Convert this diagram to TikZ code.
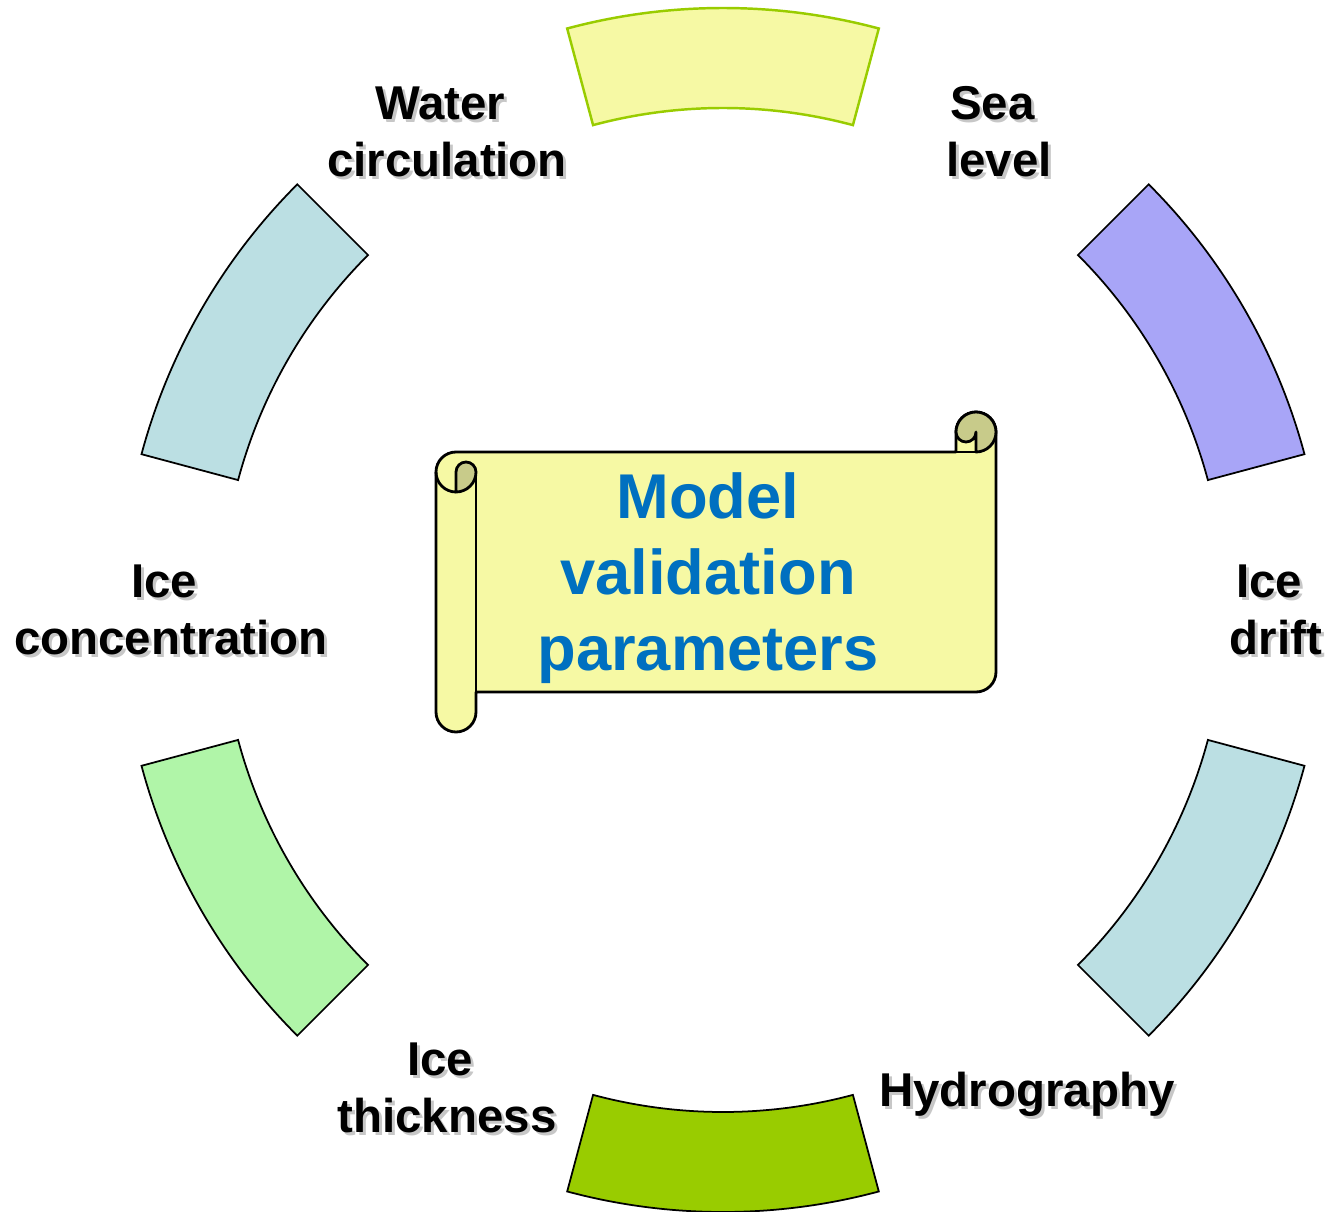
\documentclass[tikz,border=0pt]{standalone}
\usepackage{fontspec}
\setmainfont{Liberation Sans}
\usepackage{tikz}
\usetikzlibrary{positioning}
\usepackage{xcolor}
\definecolor{myyellow}{HTML}{F6F9A4}
\definecolor{myolive}{HTML}{C8CB8A}
\definecolor{mylime}{HTML}{99CC00}
\definecolor{mypurple}{HTML}{A8A5F7}
\definecolor{myblue}{HTML}{BBDFE3}
\definecolor{mymint}{HTML}{B0F5A8}
\definecolor{mytitle}{HTML}{0070C0}

\begin{document}
\begin{tikzpicture}[
  seg/.style={draw=black, line width=0.5pt},
  lbl/.style={font=\fontsize{13.5}{16.2}\selectfont\bfseries, align=center, text=black},
  lblshadow/.style={lbl, text=black!22, xshift=0.3mm, yshift=-0.3mm},
  scroll/.style={draw=black, line width=0.8pt, line join=round},
]
  \useasboundingbox (-7.23,-6.02) rectangle (6.07,6.10);

  % Ring segments (radius 5.02 to 6.02)
  \draw[seg, fill=myyellow, draw=mylime, line width=0.7pt] (75:6.02) arc[start angle=75, end angle=105, radius=6.02] -- (105:5.02) arc[start angle=105, end angle=75, radius=5.02] -- cycle;
  \draw[seg, fill=mypurple] (15:6.02) arc[start angle=15, end angle=45, radius=6.02] -- (45:5.02) arc[start angle=45, end angle=15, radius=5.02] -- cycle;
  \draw[seg, fill=myblue] (-45:6.02) arc[start angle=-45, end angle=-15, radius=6.02] -- (-15:5.02) arc[start angle=-15, end angle=-45, radius=5.02] -- cycle;
  \draw[seg, fill=mylime] (-105:6.02) arc[start angle=-105, end angle=-75, radius=6.02] -- (-75:5.02) arc[start angle=-75, end angle=-105, radius=5.02] -- cycle;
  \draw[seg, fill=mymint] (-165:6.02) arc[start angle=-165, end angle=-135, radius=6.02] -- (-135:5.02) arc[start angle=-135, end angle=-165, radius=5.02] -- cycle;
  \draw[seg, fill=myblue] (135:6.02) arc[start angle=135, end angle=165, radius=6.02] -- (165:5.02) arc[start angle=165, end angle=135, radius=5.02] -- cycle;

  % Scroll
  \draw[scroll, fill=myyellow] (-2.67,1.58) -- (2.33,1.58) -- (2.33,1.78) arc[start angle=180, end angle=0, radius=0.2] -- (2.73,-0.62) arc[start angle=0, end angle=-90, radius=0.2] -- (-2.47,-0.82) -- (-2.47,-1.02) arc[start angle=0, end angle=-180, radius=0.2] -- (-2.87,1.38) arc[start angle=180, end angle=90, radius=0.2] -- cycle;
  \draw[scroll] (-2.47,1.38) -- (-2.47,-0.82);
  \draw[scroll] (-2.87,1.38) arc[start angle=180, end angle=270, radius=0.2];
  \draw[scroll] (2.33,1.58) -- (2.53,1.58);
  % curls
  \draw[scroll, fill=myolive] (-2.67,1.18) -- (-2.67,1.38) arc[start angle=180, end angle=0, radius=0.1] arc[start angle=0, end angle=-90, radius=0.2] -- cycle;
  \draw[scroll, fill=myolive] (2.33,1.78) arc[start angle=180, end angle=0, radius=0.2] arc[start angle=0, end angle=-90, radius=0.2] -- (2.53,1.78) arc[start angle=0, end angle=-180, radius=0.1] -- cycle;

  \node[font=\fontsize{18}{21.6}\selectfont\bfseries, align=center, text=mytitle] (title) at (-0.15,0.32) {Model\\validation\\parameters};

  % Labels with shadow
  \node[lblshadow] (wcs) at (120:5.52) {Water\hspace*{.28em}\\circulation};
  \node[lbl] (wc) at (120:5.52) {Water\hspace*{.28em}\\circulation};
  \node[lblshadow] (sls) at (60:5.52) {Sea\hspace*{.28em}\\level};
  \node[lbl] (sl) at (60:5.52) {Sea\hspace*{.28em}\\level};
  \node[lblshadow] (ids) at (0:5.53) {Ice\hspace*{.28em}\\drift};
  \node[lbl] (id) at (0:5.53) {Ice\hspace*{.28em}\\drift};
  \node[lblshadow] (hys) at (3.04,-4.84) {Hydrography};
  \node[lbl] (hy) at (3.04,-4.84) {Hydrography};
  \node[lblshadow] (its) at (-120:5.52) {Ice\hspace*{.28em}\\thickness};
  \node[lbl] (it) at (-120:5.52) {Ice\hspace*{.28em}\\thickness};
  \node[lblshadow] (ics) at (180:5.52) {Ice\hspace*{.28em}\\concentration};
  \node[lbl] (ic) at (180:5.52) {Ice\hspace*{.28em}\\concentration};
\end{tikzpicture}
\end{document}
